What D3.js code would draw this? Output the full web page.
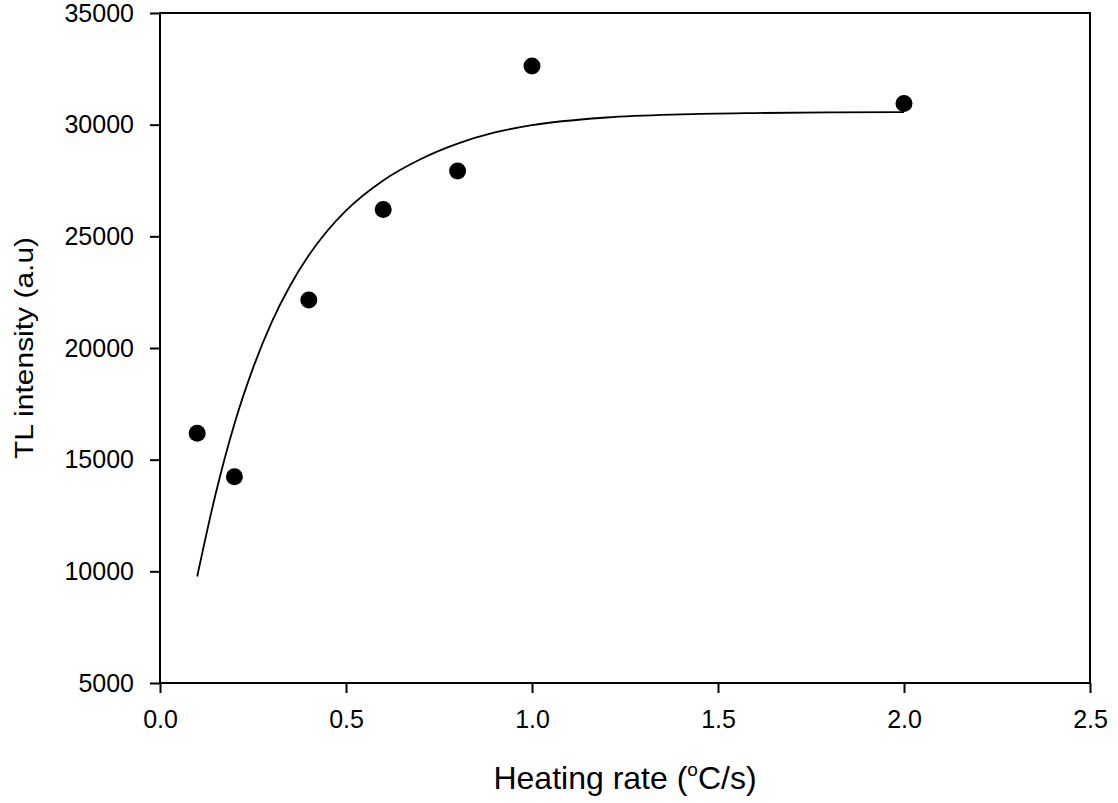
<!DOCTYPE html>
<html>
<head>
<meta charset="utf-8">
<script src="https://cdn.jsdelivr.net/npm/d3@7"></script>
<style>
  html, body { margin: 0; padding: 0; background: #fff; }
  svg { display: block; font-family: "Liberation Sans", Arial, sans-serif; }
</style>
</head>
<body>
<svg id="chart" width="1118" height="803"></svg>
<script>
// Measured TL intensity at each heating rate
const heatingRate = [0.1, 0.2, 0.4, 0.6, 0.8, 1.0, 2.0];
const tlIntensity = [16180, 14240, 22150, 26200, 27930, 32630, 30950];

// Fitted saturation curve, sampled along its length
const fitRate = [0.1, 0.15, 0.2, 0.25, 0.3, 0.35, 0.4, 0.45, 0.5, 0.6, 0.7, 0.8, 0.9, 1.0, 1.2, 1.4, 1.6, 1.8, 2.0];
const fitIntensity = [9770, 13500, 16600, 19100, 21150, 22800, 24150, 25250, 26150, 27500, 28450, 29150, 29650, 29980, 30320, 30460, 30520, 30550, 30560];

// Axis ticks
const xTicks = [0.0, 0.5, 1.0, 1.5, 2.0, 2.5];
const yTicks = [5000, 10000, 15000, 20000, 25000, 30000, 35000];

const svg = d3.select("#chart");
const plotLeft = 160, plotRight = 1090, plotTop = 13, plotBottom = 683;

const x = d3.scaleLinear().domain([0, 2.5]).range([plotLeft, plotRight]);
const y = d3.scaleLinear().domain([5000, 35000]).range([plotBottom, plotTop]);

// Axes with outward ticks
const xAxis = d3.axisBottom(x).tickValues(xTicks).tickFormat(d3.format(".1f"))
  .tickSize(10).tickSizeOuter(0).tickPadding(17);
const yAxis = d3.axisLeft(y).tickValues(yTicks).tickFormat(d3.format("d"))
  .tickSize(10).tickSizeOuter(0).tickPadding(16);

const gx = svg.append("g").attr("transform", `translate(0,${plotBottom})`).call(xAxis);
const gy = svg.append("g").attr("transform", `translate(${plotLeft},0)`).call(yAxis);

[gx, gy].forEach(g => {
  g.select(".domain").remove();
  g.selectAll(".tick line").attr("stroke", "#000").attr("stroke-width", 2);
  g.selectAll(".tick text").attr("fill", "#000").style("font-size", "25px")
    .style("font-family", '"Liberation Sans", Arial, sans-serif');
});

// Plot frame
svg.append("rect")
  .attr("x", plotLeft).attr("y", plotTop)
  .attr("width", plotRight - plotLeft).attr("height", plotBottom - plotTop)
  .attr("fill", "none").attr("stroke", "#000").attr("stroke-width", 2);

// Fit curve
const fitData = fitRate.map((r, i) => [r, fitIntensity[i]]);
svg.append("path")
  .datum(fitData)
  .attr("fill", "none")
  .attr("stroke", "#000")
  .attr("stroke-width", 1.8)
  .attr("d", d3.line().x(d => x(d[0])).y(d => y(d[1])).curve(d3.curveMonotoneX));

// Data points
svg.append("g").selectAll("circle")
  .data(heatingRate.map((r, i) => [r, tlIntensity[i]]))
  .join("circle")
  .attr("cx", d => x(d[0]))
  .attr("cy", d => y(d[1]))
  .attr("r", 8.5)
  .attr("fill", "#000");

// Axis titles
const xTitle = svg.append("text")
  .attr("x", (plotLeft + plotRight) / 2)
  .attr("y", 789)
  .attr("text-anchor", "middle")
  .style("font-size", "32px")
  .attr("fill", "#000");
xTitle.append("tspan").text("Heating rate (");
xTitle.append("tspan").text("o").style("font-size", "19px").attr("dy", -13);
xTitle.append("tspan").text("C/s)").attr("dy", 13);

svg.append("text")
  .attr("transform", `translate(33,${(plotTop + plotBottom) / 2}) scale(0.85,1) rotate(-90)`)
  .attr("text-anchor", "middle")
  .style("font-size", "30px")
  .attr("fill", "#000")
  .text("TL intensity (a.u)");
</script>
</body>
</html>
